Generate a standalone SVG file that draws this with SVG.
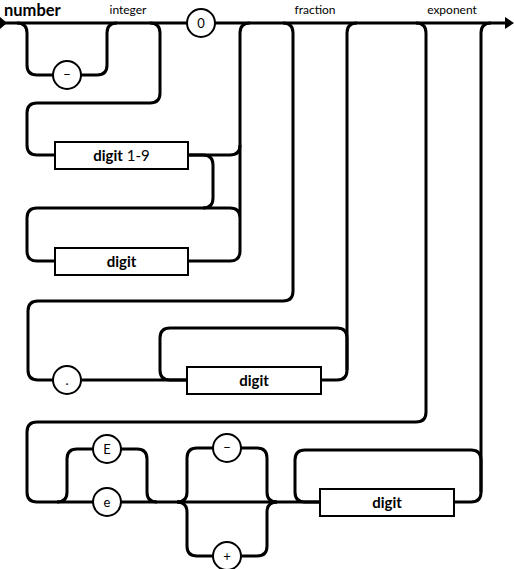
<svg xmlns="http://www.w3.org/2000/svg" width="514" height="569" viewBox="0 0 514 569">
<style>
.c{fill:none;stroke:#000;stroke-width:3;stroke-linejoin:round}
.n{fill:#fff;stroke:#000;stroke-width:2}
.t{font-family:Lato,"Open Sans","DejaVu Sans",sans-serif;fill:#000}
.lbl{font-family:Lato,"Open Sans","DejaVu Sans",sans-serif;font-size:12px;fill:#000;text-anchor:middle}
.b{font-weight:bold;font-size:15px;text-anchor:middle}
.s{font-size:13px;text-anchor:middle}
</style>
<rect width="514" height="569" fill="#fff"/>
<text class="t" x="4" y="16" font-size="16.5" font-weight="bold">number</text>
<text class="lbl" x="128" y="14">integer</text>
<text class="lbl" x="315" y="14">fraction</text>
<text class="lbl" x="452" y="14">exponent</text>
<g id="connectors">
<path class="c" d="M4,23 H508"/>
<polygon points="0,17 7,23 0,29" fill="#000"/>
<polygon points="505,17 514,23 505,29" fill="#000"/>
<path class="c" d="M17,23 Q27,23 27,33 V65 Q27,75 37,75 H97 Q107,75 107,65 V33 Q107,23 117,23"/>
<path class="c" d="M150,23 Q160,23 160,33 V93 Q160,103 150,103 H37 Q27,103 27,113 V145 Q27,155 37,155 H230 Q240,155 240,145"/>
<path class="c" d="M188,155 H203 Q213,155 213,165 V198 Q213,208 203,208"/>
<path class="c" d="M240,218 Q240,208 230,208 H37 Q27,208 27,218 V251 Q27,261 37,261 H230 Q240,261 240,251 V33 Q240,23 250,23"/>
<path class="c" d="M283,23 Q293,23 293,33 V291 Q293,301 283,301 H38 Q28,301 28,311 V370 Q28,380 38,380 H337 Q347,380 347,370 V33 Q347,23 357,23"/>
<path class="c" d="M187,380 H170 Q160,380 160,370 V338 Q160,328 170,328 H337 Q347,328 347,338 V370"/>
<path class="c" d="M416,23 Q426,23 426,33 V412 Q426,422 416,422 H37 Q27,422 27,432 V492 Q27,502 37,502 H471 Q481,502 481,492 V33 Q481,23 491,23"/>
<path class="c" d="M320,502 H305 Q295,502 295,492 V460 Q295,450 305,450 H471 Q481,450 481,460 V492"/>
<path class="c" d="M57,502 Q67,502 67,492 V459 Q67,449 77,449 H137 Q147,449 147,459 V492 Q147,502 157,502"/>
<path class="c" d="M177,502 Q187,502 187,492 V458 Q187,448 197,448 H257 Q267,448 267,458 V492 Q267,502 277,502"/>
<path class="c" d="M177,502 Q187,502 187,512 V546 Q187,556 197,556 H257 Q267,556 267,546 V512 Q267,502 277,502"/>
</g>
<g id="minus1"><circle class="n" cx="67" cy="75" r="14"/><text class="t s" x="67" y="79">−</text></g>
<g id="zero"><circle class="n" cx="201" cy="23" r="14"/><text class="t s" x="201" y="28">0</text></g>
<g id="digit19"><rect class="n" x="55" y="142" width="133" height="27"/><text class="t" x="121.5" y="161" font-size="15" text-anchor="middle"><tspan font-weight="bold">digit</tspan> 1-9</text></g>
<g id="digit1"><rect class="n" x="55" y="248" width="133" height="27"/><text class="t b" x="121.5" y="267">digit</text></g>
<g id="dot"><circle class="n" cx="67" cy="380" r="14"/><text class="t s" x="67" y="385">.</text></g>
<g id="digit2"><rect class="n" x="187" y="367" width="134" height="27"/><text class="t b" x="254" y="386">digit</text></g>
<g id="E"><circle class="n" cx="107" cy="449" r="14"/><text class="t s" x="107" y="454">E</text></g>
<g id="e"><circle class="n" cx="107" cy="502" r="14"/><text class="t s" x="107" y="507">e</text></g>
<g id="minus2"><circle class="n" cx="227" cy="448" r="14"/><text class="t s" x="227" y="452">−</text></g>
<g id="plus"><circle class="n" cx="227" cy="556" r="14"/><text class="t s" x="227" y="561">+</text></g>
<g id="digit3"><rect class="n" x="320" y="489" width="134" height="27"/><text class="t b" x="387" y="508">digit</text></g>
</svg>
